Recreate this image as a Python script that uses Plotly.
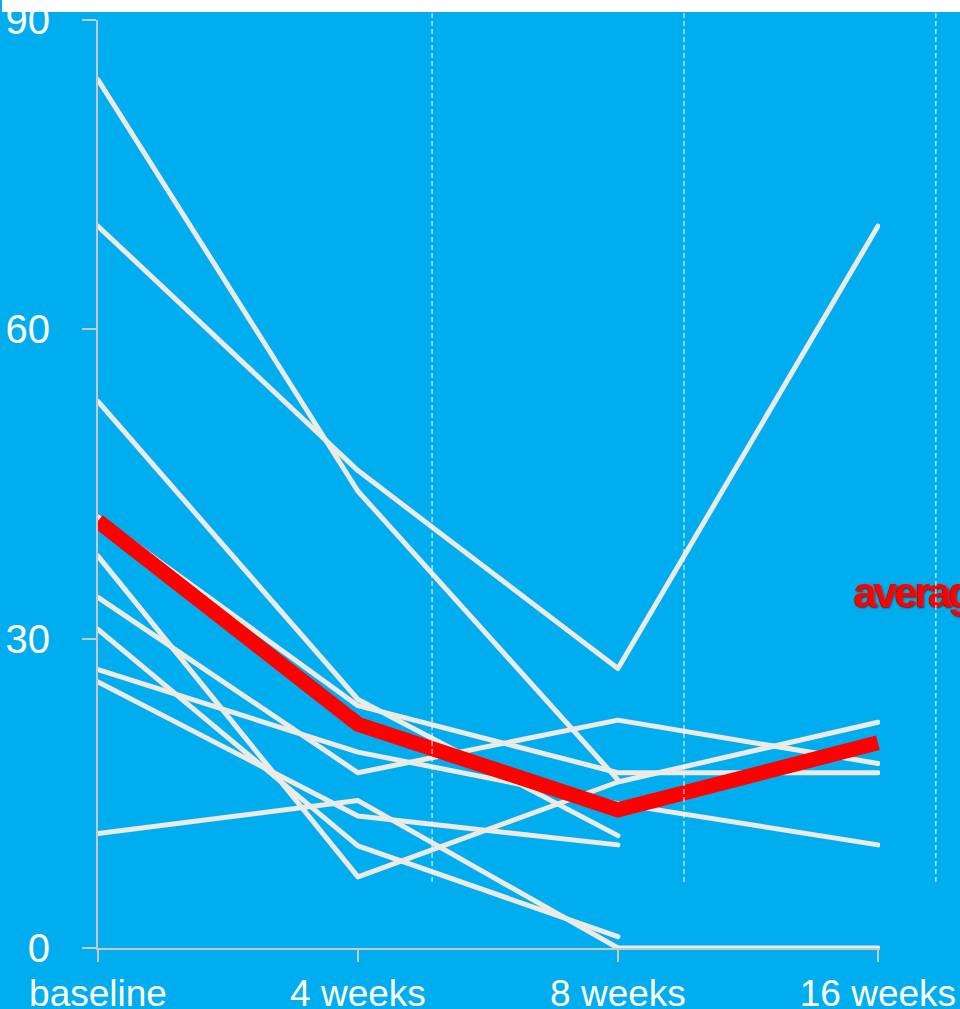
import plotly.graph_objects as go

# ---------------- data ----------------
categories = ["baseline", "4 weeks", "8 weeks", "16 weeks"]
x_pos = [0, 1, 2, 3]

patient_a = [84.2, 44.3, 16.3, None]
patient_b = [70.0, 46.3, 27.1, 70.0]
patient_c = [53.0, 24.1, 10.9, None]
patient_j = [41.8, 23.5, 17.0, 17.0]
patient_d = [38.0, 6.9, 16.1, 21.9]
patient_e = [34.0, 17.0, 22.1, 17.9]
patient_f = [30.9, 9.9, 1.1, None]
patient_g = [27.0, 19.0, 14.0, 10.0]
patient_h = [25.8, 12.8, 10.0, None]
patient_i = [11.1, 14.3, 0.0, 0.0]
patients = [patient_a, patient_b, patient_c, patient_j, patient_d,
            patient_e, patient_f, patient_g, patient_h, patient_i]

average = [41.4, 21.7, 13.4, 19.9]

y_ticks = [0, 30, 60, 90]
divider_x = [1.285, 2.254, 3.223]
divider_bottom = 6.4
label_text = "average"
label_x = 2.905
label_y = 34.1

# ---------------- style ----------------
BLUE = "#00AEEF"
WHITE_LINE = "#ECEAE4"
RED = "#FF0000"
AXIS = "#C8C8C8"
FONT = "Liberation Sans, Arial, Helvetica, sans-serif"
X_RANGE = [0, 3.008]
Y_RANGE = [0, 90]

fig = go.Figure()
for p in patients:
    fig.add_trace(go.Scatter(x=x_pos, y=p, mode="lines",
                             line=dict(color=WHITE_LINE, width=5),
                             hoverinfo="skip", connectgaps=False))

fig.add_trace(go.Scatter(x=[label_x], y=[label_y], mode="text", text=[label_text],
                         textposition="middle right", cliponaxis=False,
                         textfont=dict(family=FONT, size=42,
                                       color=RED, weight="bold",
                                       shadow="1px 1px 2px #6a1010"),
                         hoverinfo="skip"))

fig.add_trace(go.Scatter(x=x_pos, y=average, mode="lines",
                         line=dict(color=RED, width=15),
                         hoverinfo="skip"))

def px(xv):
    return (xv - X_RANGE[0]) / (X_RANGE[1] - X_RANGE[0])

def py(yv):
    return (yv - Y_RANGE[0]) / (Y_RANGE[1] - Y_RANGE[0])

shapes = []
for dx in divider_x:
    shapes.append(dict(type="line", xref="paper", yref="paper",
                       x0=px(dx), x1=px(dx), y0=py(divider_bottom), y1=1.03,
                       line=dict(color="white", width=1, dash="5px,3px"),
                       layer="above"))
# white strip across the top of the picture
shapes.append(dict(type="rect", xref="paper", yref="paper",
                   x0=-96 / 782, x1=1.2, y0=1 + 8 / 928, y1=1.05,
                   fillcolor="white", line=dict(width=0), layer="above"))

fig.update_layout(
    template="none",
    width=960, height=1009,
    margin=dict(l=98, r=80, t=20, b=61, pad=0, autoexpand=False),
    paper_bgcolor=BLUE, plot_bgcolor=BLUE,
    showlegend=False,
    shapes=shapes,
    xaxis=dict(range=X_RANGE, tickmode="array", tickvals=x_pos, ticktext=categories,
               automargin=False, ticklabeloverflow="allow",
               showgrid=False, zeroline=False, showline=True, linecolor=AXIS, linewidth=2,
               ticks="outside", ticklen=12, tickwidth=2, tickcolor=AXIS,
               tickfont=dict(family=FONT, size=37, color="white"), fixedrange=True),
    yaxis=dict(range=Y_RANGE, tickmode="array", tickvals=y_ticks,
               automargin=False, ticklabeloverflow="allow",
               showgrid=False, zeroline=False, showline=True, linecolor=AXIS, linewidth=2,
               ticks="outside", ticklen=14, tickwidth=2, tickcolor=AXIS,
               ticklabelstandoff=24,
               tickfont=dict(family=FONT, size=40, color="white"), fixedrange=True),
)

post = """
document.body.style.margin='0';
var gd = document.getElementById('{plot_id}');
function caps(){
  gd.querySelectorAll('.scatterlayer .js-line').forEach(function(p){
    if (parseFloat(p.style.strokeWidth) < 10) { p.style.strokeLinecap='round'; p.style.strokeLinejoin='round'; }
  });
  gd.querySelectorAll('.scatterlayer .textpoint text').forEach(function(t){
    t.style.letterSpacing='-3px';
  });
}
caps();
if (gd.on) { gd.on('plotly_afterplot', caps); }
"""

fig.write_html("out.html", post_script=post, config={"displayModeBar": False, "staticPlot": True})
